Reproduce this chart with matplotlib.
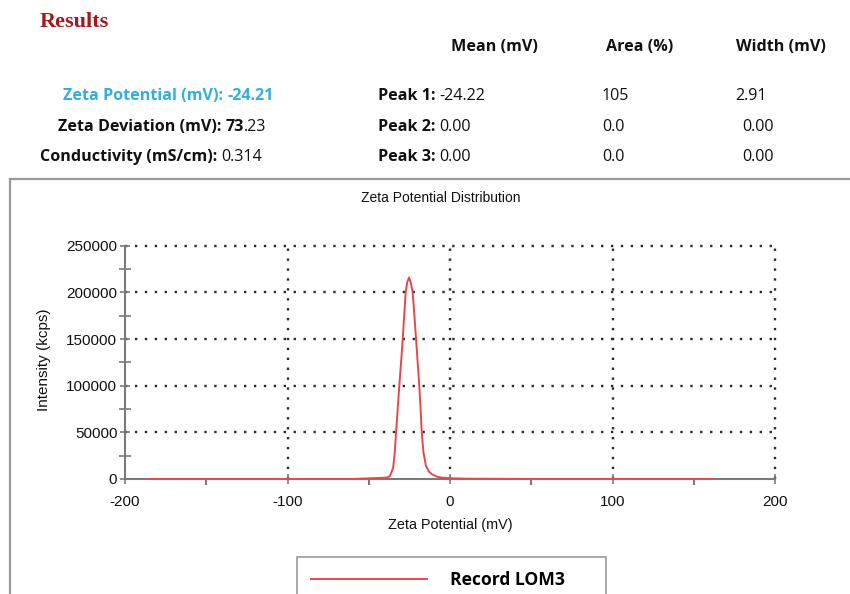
import matplotlib
matplotlib.use("Agg")
import matplotlib.pyplot as plt
from matplotlib.lines import Line2D

# ---------------- data ----------------
potential_mv = [-186, -100, -60, -50, -42, -39, -37, -35, -34, -33.2, -32.2, -31.2,
                -30.1, -29.1, -28.2, -27.3, -26.3, -25.2, -24.2, -23.0, -21.9, -20.9,
                -19.9, -18.9, -18.1, -17.4, -16.3, -14.8, -13, -11, -8, -5, 0, 10, 50, 100, 161]
intensity_kcps = [0, 0, 0, 700, 1200, 1500, 3000, 12000, 28000, 50000, 75000, 100000,
                  125000, 150000, 175000, 200000, 211000, 216000, 211000, 200000, 175000, 150000,
                  125000, 100000, 75000, 50000, 28000, 14000, 8000, 5000, 2500, 1500, 800, 300, 0, 0, 0]

x_ticks = [-200, -100, 0, 100, 200]
y_ticks = [0, 50000, 100000, 150000, 200000, 250000]
x_minor = [-150, -50, 50, 150]
y_minor = [25000, 75000, 125000, 175000, 225000]

summary_labels = ["Zeta Potential (mV): ", "Zeta Deviation (mV): ", "Conductivity (mS/cm): "]
summary_values = ["-24.21", "73", "0.314"]
peak_labels = ["Peak 1: ", "Peak 2: ", "Peak 3: "]
peak_means = ["-24.22", "0.00", "0.00"]
peak_areas = ["105", "0.0", "0.0"]
peak_widths = ["2.91", "0.00", "0.00"]
headers = ["Mean (mV)", "Area (%)", "Width (mV)"]
series_name = "Record LOM3"

W, H = 850, 594
def fx(px): return px / W
def fy(py): return 1 - py / H

SANS = ["Liberation Sans", "DejaVu Sans"]
TXT = ["Open Sans", "DejaVu Sans"]
RED = "#e5484b"
CYAN = "#35aedd"

fig = plt.figure(figsize=(8.5, 5.94), dpi=100)
fig.patch.set_facecolor("white")

# overlay for texts
ov = fig.add_axes([0, 0, 1, 1])
ov.set_xlim(0, W); ov.set_ylim(H, 0); ov.axis("off")

# frame around chart
ov.add_line(Line2D([10, 850], [178.5, 178.5], color="#9a9a9a", lw=1.6))
ov.add_line(Line2D([10, 10], [178.5, 594], color="#9a9a9a", lw=1.6))

# ---- top text block ----
ov.text(40, 22, "Results", family=["Liberation Serif"], fontweight="bold",
        fontsize=16, color="#a5191c", va="center", ha="left")

hx = [451, 606, 736]
for x, h in zip(hx, headers):
    ov.text(x, 47, h, family=TXT, fontweight="bold", fontsize=11.6, va="center", ha="left", color="#111")

row_y = [96, 127, 157]
lab_x = [63, 58, 40]
fs = 11.6
for i, (lab, val) in enumerate(zip(summary_labels, summary_values)):
    col = CYAN if i == 0 else "#111"
    t = ov.text(lab_x[i], row_y[i], lab, family=TXT, fontweight="bold", fontsize=fs,
                color=col, va="center", ha="left")
    if i == 0:
        ov.annotate(val, xy=(1, 0), xycoords=t, va="bottom", ha="left", family=TXT,
                    fontweight="bold", fontsize=fs, color=col)
    elif i == 1:
        t2 = ov.annotate(val, xy=(1, 0), xycoords=t, va="bottom", ha="left", family=TXT,
                         fontweight="bold", fontsize=fs, color=col)
        ov.annotate(".23", xy=(1, 0), xycoords=t2, va="bottom", ha="left", family=TXT,
                    fontweight="normal", fontsize=fs, color=col)
    else:
        ov.annotate(val, xy=(1, 0), xycoords=t, va="bottom", ha="left", family=TXT,
                    fontweight="normal", fontsize=fs, color=col)

for i in range(3):
    t = ov.text(378, row_y[i], peak_labels[i], family=TXT, fontweight="bold", fontsize=fs,
                color="#111", va="center", ha="left")
    ov.annotate(peak_means[i], xy=(1, 0), xycoords=t, va="bottom", ha="left", family=TXT,
                fontsize=fs, color="#111")
    ov.text(602, row_y[i], peak_areas[i], family=TXT, fontsize=fs, color="#111", va="center", ha="left")
    ov.text(735 if i == 0 else 742, row_y[i], peak_widths[i], family=TXT, fontsize=fs,
            color="#111", va="center", ha="left")

# ---- chart ----
ax = fig.add_axes([fx(125), fy(479), (775 - 125) / W, (479 - 245.7) / H])
ax.set_facecolor("none")
line, = ax.plot(potential_mv, intensity_kcps, color=RED, lw=1.4, zorder=5, label=series_name)
ax.set_xlim(-200, 200)
ax.set_ylim(0, 250000)
ax.set_xticks(x_ticks)
ax.set_yticks(y_ticks)
ax.set_xticks(x_minor, minor=True)
ax.set_yticks(y_minor, minor=True)
ax.set_xticklabels([str(v) for v in x_ticks], family=SANS, fontsize=11)
ax.set_yticklabels([str(v) for v in y_ticks], family=SANS, fontsize=11)

for s in ["top", "right"]:
    ax.spines[s].set_visible(False)
for s in ["left", "bottom"]:
    ax.spines[s].set_color("#7a7a7a")
    ax.spines[s].set_linewidth(1.5)

ax.tick_params(axis="both", which="major", direction="inout", length=7, width=1.2,
               color="#7a7a7a", labelcolor="#111")
ax.tick_params(axis="y", which="major", pad=2)
ax.tick_params(axis="x", which="major", pad=8)
ax.tick_params(axis="y", which="minor", direction="inout", length=8, width=1.2, color="#7a7a7a")
ax.tick_params(axis="x", which="minor", direction="out", length=4, width=1.5, color="#7a7a7a")

ax.grid(True, which="major", color="#2a2a2a", linestyle=(0, (1, 3.2)), linewidth=1.7)
for gl in ax.get_xgridlines() + ax.get_ygridlines():
    gl.set_clip_on(False)
# hide gridlines that coincide with the solid spines
ax.get_xgridlines()[0].set_visible(False)
ax.get_ygridlines()[0].set_visible(False)

ov.text(441, 198, "Zeta Potential Distribution", family=SANS, fontsize=10, va="center",
        ha="center", color="#111")
ov.text(450, 525, "Zeta Potential (mV)", family=SANS, fontsize=10.4, va="center",
        ha="center", color="#111")
ov.text(44, 360, "Intensity (kcps)", family=SANS, fontsize=11, va="center",
        ha="center", rotation=90, color="#111")

# legend (box stretched to the reference width)
leg_w = (606 - 297) / W
leg_h = 45 / H
leg = fig.legend(handles=[line], labels=[series_name], loc="upper left",
                 bbox_to_anchor=(fx(297), fy(557) - leg_h, leg_w, leg_h),
                 bbox_transform=fig.transFigure, mode="expand",
                 prop={"family": TXT, "weight": "bold", "size": 12.6},
                 handlelength=6.6, handletextpad=1.35, borderpad=0.8, borderaxespad=0,
                 fancybox=False, framealpha=1, edgecolor="#9a9a9a")
leg.get_frame().set_linewidth(1.2)

fig.savefig("out.png", dpi=100)
